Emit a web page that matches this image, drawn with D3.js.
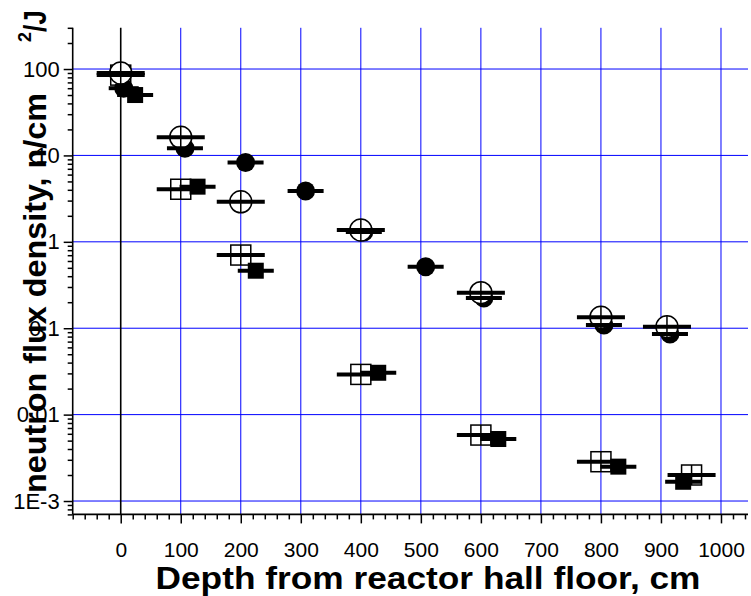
<!DOCTYPE html>
<html>
<head>
<meta charset="utf-8">
<script src="https://cdn.jsdelivr.net/npm/d3@7"></script>
<style>
  body { margin: 0; background: #fff; }
  svg { display: block; font-family: Arial, "Liberation Sans", sans-serif; }
</style>
</head>
<body>
<svg id="chart" width="751" height="596"></svg>
<script>
// values (depth in cm, flux in n/cm2/J, half width of x error in cm)
const depthOpenCircle = [0, 100, 200, 400, 600, 800, 910];
const fluxOpenCircle = [90, 16.2, 2.9, 1.37, 0.258, 0.134, 0.104];
const errOpenCircle = [40, 40, 40, 40, 40, 40, 40];

const depthFilledCircle = [5, 107, 208, 308, 405, 508, 605, 805, 915];
const fluxFilledCircle = [60, 12.1, 8.3, 3.87, 1.3, 0.515, 0.224, 0.109, 0.0857];
const errFilledCircle = [25, 30, 30, 30, 30, 30, 30, 30, 30];

const depthOpenSquare = [0, 100, 200, 400, 600, 800, 951];
const fluxOpenSquare = [85, 4.06, 0.703, 0.0292, 0.0058, 0.00285, 0.0020];
const errOpenSquare = [40, 40, 40, 40, 40, 40, 40];

const depthFilledSquare = [24, 128, 225, 429, 629, 829, 937];
const fluxFilledSquare = [50, 4.35, 0.463, 0.0305, 0.00522, 0.0025, 0.00167];
const errFilledSquare = [30, 30, 30, 30, 30, 30, 30];

const xTicks = [0, 100, 200, 300, 400, 500, 600, 700, 800, 900, 1000];
const yTicks = [1e-3, 0.01, 0.1, 1, 10, 100];
const yTickLabels = ['1E-3', '0.01', '0.1', '1', '10', '100'];

let svg = d3.select('#chart');
let plotLeft = 72.7, plotRight = 748, plotTop = 27.8, plotBottom = 514.4;

let x = d3.scaleLinear().domain([-80, 1045]).range([plotLeft, plotRight]);
let y = d3.scaleLog().domain([7e-4, 300]).range([plotBottom, plotTop]);

function zip(xs, ys, es) {
    return xs.map(function (v, i) { return {x: v, y: ys[i], e: es[i]}; });
}

let series = [
    {kind: 'openSquare', data: zip(depthOpenSquare, fluxOpenSquare, errOpenSquare)},
    {kind: 'filledSquare', data: zip(depthFilledSquare, fluxFilledSquare, errFilledSquare)},
    {kind: 'filledCircle', data: zip(depthFilledCircle, fluxFilledCircle, errFilledCircle)},
    {kind: 'openCircle', data: zip(depthOpenCircle, fluxOpenCircle, errOpenCircle)}
];

// grid
svg.append('g').selectAll('line')
    .data(yTicks).enter().append('line')
    .attr('x1', plotLeft).attr('x2', plotRight)
    .attr('y1', function (d) { return y(d); })
    .attr('y2', function (d) { return y(d); })
    .attr('stroke', '#0000ff').attr('stroke-width', 1);

svg.append('g').selectAll('line')
    .data(xTicks.filter(function (d) { return d > 0; })).enter().append('line')
    .attr('x1', function (d) { return x(d); })
    .attr('x2', function (d) { return x(d); })
    .attr('y1', plotTop).attr('y2', plotBottom)
    .attr('stroke', '#0000ff').attr('stroke-width', 1);

// zero line
svg.append('line')
    .attr('x1', x(0)).attr('x2', x(0))
    .attr('y1', plotTop).attr('y2', plotBottom)
    .attr('stroke', '#000').attr('stroke-width', 1.6);

// x axis
let xMinor = d3.range(-80, 1041, 20).filter(function (d) { return d % 100 !== 0; });
let xMinorG = svg.append('g').attr('transform', 'translate(0,' + plotBottom + ')')
    .call(d3.axisBottom(x).tickValues(xMinor).tickSize(5).tickFormat(''));
xMinorG.select('.domain').remove();
let xMajorG = svg.append('g').attr('transform', 'translate(0,' + plotBottom + ')')
    .call(d3.axisBottom(x).tickValues(xTicks).tickSize(9).tickPadding(19).tickSizeOuter(0)
        .tickFormat(d3.format('d')));
xMajorG.select('.domain').attr('d', 'M' + plotLeft + ',0H' + plotRight);
xMajorG.selectAll('text').attr('font-size', 21).attr('fill', '#000');

// y axis
let yMinor = [];
[1e-4, 1e-3, 0.01, 0.1, 1, 10, 100].forEach(function (dec) {
    for (let k = 2; k <= 9; k++) {
        let v = dec * k;
        if (v >= 7e-4 && v <= 300) yMinor.push(v);
    }
});
let yMinorG = svg.append('g').attr('transform', 'translate(' + plotLeft + ',0)')
    .call(d3.axisLeft(y).tickValues(yMinor).tickSize(5).tickFormat(''));
yMinorG.select('.domain').remove();
let yMajorG = svg.append('g').attr('transform', 'translate(' + plotLeft + ',0)')
    .call(d3.axisLeft(y).tickValues(yTicks).tickSize(9).tickPadding(4).tickSizeOuter(0)
        .tickFormat(function (d, i) { return yTickLabels[i]; }));
yMajorG.select('.domain').attr('d', 'M0,' + plotTop + 'V' + plotBottom);
yMajorG.selectAll('text').attr('font-size', 22).attr('fill', '#000');
svg.selectAll('.domain').attr('stroke-width', 1.6);
svg.selectAll('.tick line').attr('stroke-width', 1.5);

// markers
let marks = svg.append('g');
series.forEach(function (s) {
    let g = marks.append('g').selectAll('g')
        .data(s.data).enter().append('g')
        .attr('transform', function (d) { return 'translate(' + x(d.x) + ',' + y(d.y) + ')'; });
    if (s.kind === 'openCircle') {
        g.append('circle').attr('r', 11).attr('fill', '#fff').attr('stroke', '#000').attr('stroke-width', 1.5);
        g.append('path').attr('d', 'M-11,0H11M0,-11V11').attr('stroke', '#000').attr('stroke-width', 1.5);
    } else if (s.kind === 'filledCircle') {
        g.append('circle').attr('r', 9.5).attr('fill', '#000');
    } else if (s.kind === 'openSquare') {
        g.append('rect').attr('x', -10).attr('y', -10).attr('width', 20).attr('height', 20)
            .attr('fill', '#fff').attr('stroke', '#000').attr('stroke-width', 1.5);
        g.append('path').attr('d', 'M-10,0H10M0,-10V10').attr('stroke', '#000').attr('stroke-width', 1.5);
    } else {
        g.append('rect').attr('x', -8).attr('y', -8).attr('width', 16).attr('height', 16).attr('fill', '#000');
    }
});

// horizontal error bars on top
let bars = svg.append('g');
series.forEach(function (s) {
    bars.append('g').selectAll('line')
        .data(s.data).enter().append('line')
        .attr('x1', function (d) { return x(d.x - d.e); })
        .attr('x2', function (d) { return x(d.x + d.e); })
        .attr('y1', function (d) { return y(d.y); })
        .attr('y2', function (d) { return y(d.y); })
        .attr('stroke', '#000').attr('stroke-width', 4);
});

// axis titles
svg.append('text')
    .attr('x', 428).attr('y', 589)
    .attr('text-anchor', 'middle')
    .attr('font-size', 31).attr('font-weight', 'bold')
    .attr('textLength', 545).attr('lengthAdjust', 'spacingAndGlyphs')
    .text('Depth from reactor hall floor, cm');

svg.append('text')
    .attr('transform', 'translate(46,493) rotate(-90)')
    .attr('font-size', 32).attr('font-weight', 'bold')
    .attr('textLength', 400).attr('lengthAdjust', 'spacingAndGlyphs')
    .text('neutron flux density, n/cm');

let unit = svg.append('text')
    .attr('transform', 'translate(46,42) rotate(-90)')
    .attr('font-weight', 'bold');
unit.append('tspan').attr('font-size', 18).attr('dy', -15).text('2');
unit.append('tspan').attr('font-size', 32).attr('dy', 15).attr('textLength', 22)
    .attr('lengthAdjust', 'spacingAndGlyphs').text('/J');
</script>
</body>
</html>
